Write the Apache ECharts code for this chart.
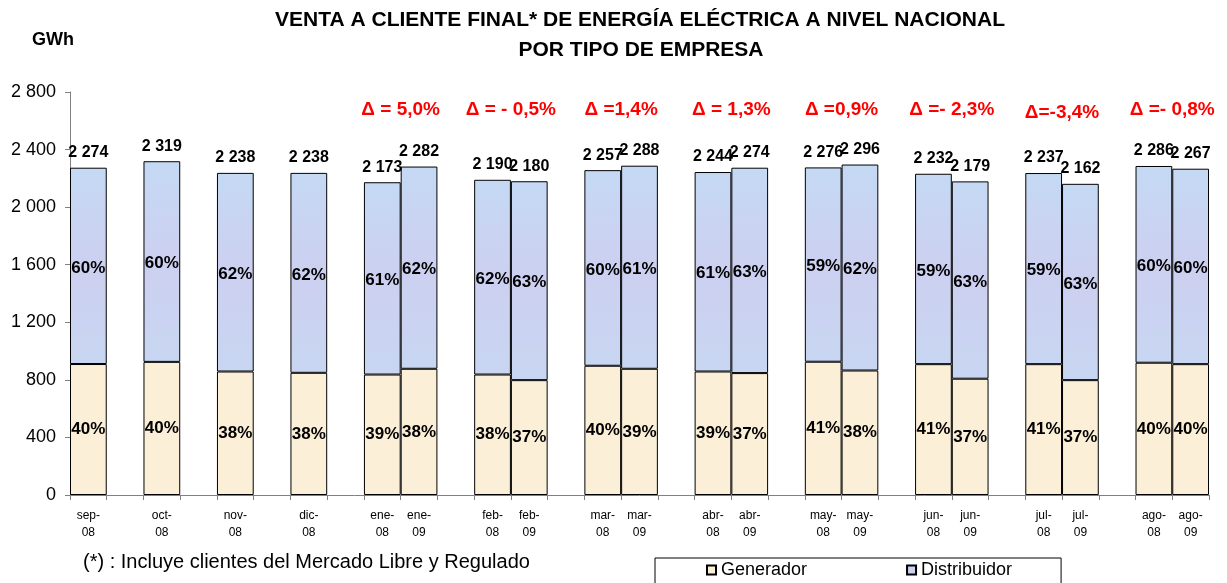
<!DOCTYPE html>
<html>
<head>
<meta charset="utf-8">
<script src="https://cdn.jsdelivr.net/npm/echarts/dist/echarts.min.js"></script>
<style>
  html, body { margin: 0; padding: 0; background: #fff; }
  #chart { width: 1227px; height: 583px; }
</style>
</head>
<body>
<div id="chart"></div>
<script>
// categorías (los huecos vacíos separan los pares de meses)
const categories = ['sep-08', '', 'oct-08', '', 'nov-08', '', 'dic-08', '', 'ene-08', 'ene-09', '', 'feb-08', 'feb-09', '',
  'mar-08', 'mar-09', '', 'abr-08', 'abr-09', '', 'may-08', 'may-09', '', 'jun-08', 'jun-09', '', 'jul-08', 'jul-09', '', 'ago-08', 'ago-09']
const generador = [910, null, 925, null, 858, null, 849, null, 837, 877, null, 837, 798, null,
  898, 877, null, 858, 847, null, 926, 865, null, 909, 808, null, 909, 798, null, 919, 909]
const distribuidor = [1364, null, 1394, null, 1380, null, 1389, null, 1336, 1405, null, 1353, 1382, null,
  1359, 1411, null, 1386, 1427, null, 1350, 1431, null, 1323, 1371, null, 1328, 1364, null, 1367, 1358]
const totales = [2274, null, 2319, null, 2238, null, 2238, null, 2173, 2282, null, 2190, 2180, null,
  2257, 2288, null, 2244, 2274, null, 2276, 2296, null, 2232, 2179, null, 2237, 2162, null, 2286, 2267]
const pctGen = [40, null, 40, null, 38, null, 38, null, 39, 38, null, 38, 37, null,
  40, 39, null, 39, 37, null, 41, 38, null, 41, 37, null, 41, 37, null, 40, 40]
const pctDist = [60, null, 60, null, 62, null, 62, null, 61, 62, null, 62, 63, null,
  60, 61, null, 61, 63, null, 59, 62, null, 59, 63, null, 59, 63, null, 60, 60]
const yTicks = [0, 400, 800, 1200, 1600, 2000, 2400, 2800]

// variaciones anuales sobre cada par
const deltaStart = ['ene-08', 'feb-08', 'mar-08', 'abr-08', 'may-08', 'jun-08', 'jul-08', 'ago-08']
const deltaText = ['Δ = 5,0%', 'Δ = - 0,5%', 'Δ =1,4%', 'Δ = 1,3%', 'Δ =0,9%', 'Δ =- 2,3%', 'Δ=-3,4%', 'Δ =- 0,8%']
const deltaLevel = [2680, 2680, 2680, 2680, 2680, 2680, 2655, 2680]

const FONT = '"Liberation Sans", Arial, sans-serif'

const miles = v => {
  const s = String(v)
  return s.length > 3 ? s.slice(0, s.length - 3) + ' ' + s.slice(-3) : s
}

const chart = echarts.init(document.getElementById('chart'))

const option = {
  animation: false,
  textStyle: { fontFamily: FONT },
  grid: { left: 70, right: 18, top: 92, bottom: 88, containLabel: false },
  legend: {
    left: 655,
    top: 558,
    padding: [3, 49, 20, 51],
    itemGap: 99,
    itemWidth: 9,
    itemHeight: 9,
    icon: 'rect',
    borderColor: '#000',
    borderWidth: 1,
    textStyle: { fontSize: 18, color: '#000', fontFamily: FONT },
    data: ['Generador', 'Distribuidor']
  },
  xAxis: {
    type: 'category',
    data: categories,
    boundaryGap: true,
    axisLine: { lineStyle: { color: '#808080', width: 1 } },
    axisTick: { show: true, interval: 0, length: 5, lineStyle: { color: '#808080' } },
    axisLabel: {
      interval: 0,
      margin: 12,
      fontSize: 12,
      lineHeight: 17,
      color: '#000',
      fontFamily: FONT,
      formatter: v => v ? v.replace('-', '-\n') : ''
    }
  },
  yAxis: {
    type: 'value',
    min: yTicks[0],
    max: yTicks[yTicks.length - 1],
    interval: 400,
    splitLine: { show: false },
    axisLine: { show: true, lineStyle: { color: '#808080', width: 1 } },
    axisTick: { show: true, length: 5, lineStyle: { color: '#808080' } },
    axisLabel: { margin: 14, fontSize: 18, color: '#000', fontFamily: FONT, formatter: miles }
  },
  series: [
    {
      name: 'Generador',
      type: 'bar',
      stack: 'total',
      barCategoryGap: '0%',
      data: generador,
      itemStyle: { color: '#FCEFD7', borderColor: '#000', borderWidth: 1 },
      label: {
        show: true,
        position: 'inside',
        fontSize: 17,
        fontWeight: 'bold',
        color: '#000',
        fontFamily: FONT,
        formatter: p => pctGen[p.dataIndex] + '%'
      }
    },
    {
      name: 'Distribuidor',
      type: 'bar',
      stack: 'total',
      barCategoryGap: '0%',
      data: distribuidor,
      itemStyle: {
        color: new echarts.graphic.LinearGradient(0, 0, 0, 1, [
          { offset: 0, color: '#C4D9F4' },
          { offset: 0.5, color: '#CDD0F0' },
          { offset: 1, color: '#C8D6F2' }
        ]),
        borderColor: '#000',
        borderWidth: 1
      },
      label: {
        show: true,
        position: 'inside',
        offset: [0, 2],
        fontSize: 17,
        fontWeight: 'bold',
        color: '#000',
        fontFamily: FONT,
        formatter: p => pctDist[p.dataIndex] + '%'
      }
    },
    {
      // etiqueta del total sobre cada barra
      name: 'Total',
      type: 'bar',
      stack: 'total',
      barCategoryGap: '0%',
      data: totales.map(v => (v == null ? null : 0)),
      itemStyle: { color: 'transparent' },
      label: {
        show: true,
        position: 'top',
        distance: 7,
        fontSize: 16,
        fontWeight: 'bold',
        color: '#000',
        fontFamily: FONT,
        formatter: p => (totales[p.dataIndex] == null ? '' : miles(totales[p.dataIndex]))
      },
      silent: true
    }
  ]
}

chart.setOption(option)

// textos fijos + deltas ubicados con las escalas del gráfico
const graphics = [
  {
    type: 'text', x: 640, y: 20,
    style: {
      text: 'VENTA A CLIENTE FINAL* DE ENERGÍA ELÉCTRICA A NIVEL NACIONAL',
      font: 'bold 21px ' + FONT, fill: '#000', align: 'center', verticalAlign: 'middle'
    }
  },
  {
    type: 'text', x: 641, y: 50,
    style: {
      text: 'POR TIPO DE EMPRESA',
      font: 'bold 21px ' + FONT, fill: '#000', align: 'center', verticalAlign: 'middle'
    }
  },
  {
    type: 'text', x: 32, y: 40,
    style: { text: 'GWh', font: 'bold 18px ' + FONT, fill: '#000', verticalAlign: 'middle' }
  },
  {
    type: 'text', x: 83, y: 562,
    style: {
      text: '(*) : Incluye clientes del Mercado Libre y Regulado',
      font: '20px ' + FONT, fill: '#000', verticalAlign: 'middle'
    }
  }
]

deltaStart.forEach((name, i) => {
  const idx = categories.indexOf(name)
  const x0 = chart.convertToPixel({ xAxisIndex: 0 }, idx)
  const x1 = chart.convertToPixel({ xAxisIndex: 0 }, idx + 1)
  const y = chart.convertToPixel({ yAxisIndex: 0 }, deltaLevel[i])
  graphics.push({
    type: 'text',
    x: (x0 + x1) / 2,
    y: y,
    style: {
      text: deltaText[i],
      font: 'bold 19px ' + FONT,
      fill: '#FF0000',
      align: 'center',
      verticalAlign: 'middle'
    }
  })
})

chart.setOption({ graphic: graphics })

window.addEventListener('resize', () => chart.resize())
</script>
</body>
</html>
